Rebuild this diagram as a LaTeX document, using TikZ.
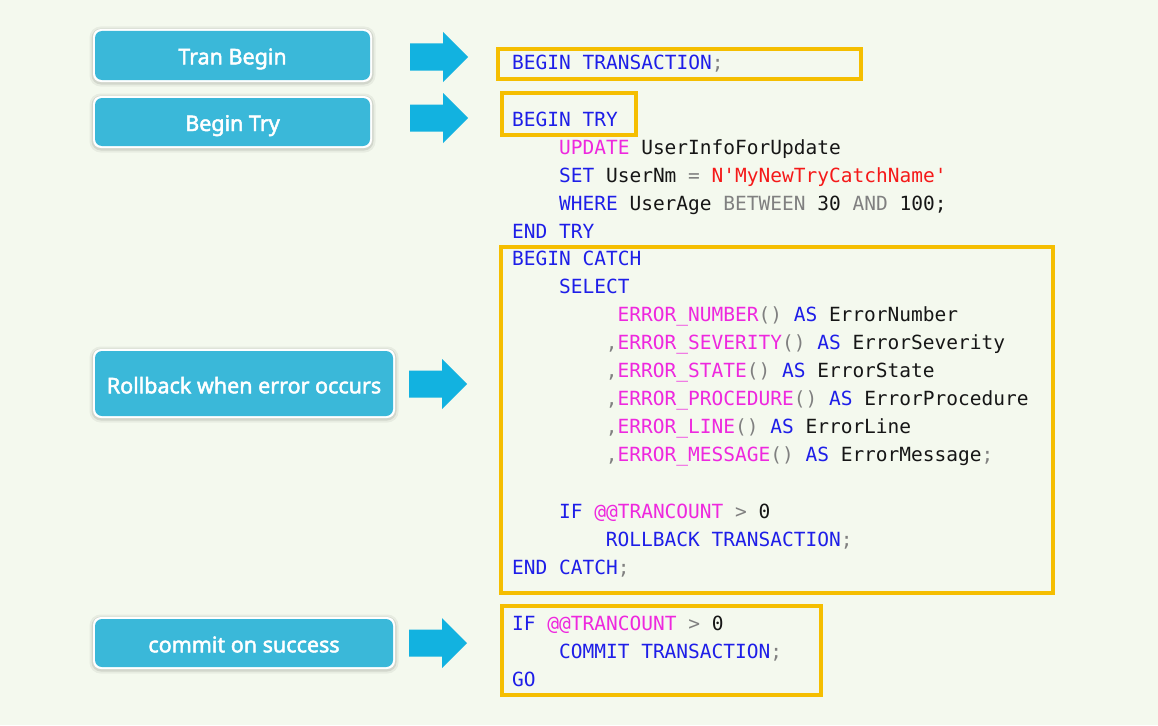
\documentclass[tikz,border=0pt]{standalone}
\usepackage{fontspec}
\newfontfamily\codefont{DejaVu Sans Mono}
\newfontfamily\labfont{Noto Sans}[FakeBold=2.2]
\definecolor{bgc}{RGB}{244,249,238}
\definecolor{boxblue}{RGB}{58,184,217}
\definecolor{arrblue}{RGB}{18,178,224}
\definecolor{hlyellow}{RGB}{245,190,0}
\definecolor{kwc}{RGB}{30,30,232}
\definecolor{fnc}{RGB}{238,40,222}
\definecolor{strc}{RGB}{245,25,25}
\definecolor{grc}{RGB}{128,128,128}
\definecolor{idc}{RGB}{22,22,22}
\newcommand\kw[1]{\textcolor{kwc}{#1}}
\newcommand\fn[1]{\textcolor{fnc}{#1}}
\newcommand\strg[1]{\textcolor{strc}{#1}}
\newcommand\gr[1]{\textcolor{grc}{#1}}
\newcommand\idf[1]{\textcolor{idc}{#1}}
\tikzset{
  lab/.style={font=\labfont\fontsize{21.5}{24}\selectfont, text=white, inner sep=0pt, anchor=base},
  codetxt/.style={font=\codefont\fontsize{19.5}{22}\selectfont, anchor=base west, inner sep=0pt},
  hl/.style={draw=hlyellow, line width=4pt},
  arr/.style={fill=arrblue},
}
\newcommand\labbox[7]{% name x1 y1 x2 y2 baseline text
  \fill[black,opacity=0.05,rounded corners=11] (#2-3.5,#3-2.5) rectangle (#4+3.5,#5+4.5);
  \fill[black,opacity=0.09,rounded corners=9.5] (#2-1.5,#3-0.5) rectangle (#4+1.5,#5+2.5);
  \fill[white,rounded corners=8] (#2,#3) rectangle (#4,#5);
  \fill[boxblue,rounded corners=7] (#2+2,#3+2) rectangle (#4-2,#5-2);
  \node[lab] (#1) at ({(#2+#4)/2},#6) {#7};
}
\newcommand\arrowat[5]{% x0 xh xt yc name
  \coordinate (#5) at (#3,#4);
  \fill[arr] (#1,#4-13.5) -- (#2,#4-13.5) -- (#2,#4-25) -- (#5) -- (#2,#4+25) -- (#2,#4+13.5) -- (#1,#4+13.5) -- cycle;
}
\newcommand\codeln[4]{% name col baseline text
  \node[codetxt] (#1) at ({512+#2*11.72},#3) {#4};
}
\begin{document}
\begin{tikzpicture}[x=1pt,y=-1pt]
\fill[bgc] (0,0) rectangle (1158,725);
\useasboundingbox (0,0) rectangle (1158,725);

% left boxes
\labbox{b1}{93}{29}{372}{82}{64.3}{Tran Begin}
\labbox{b2}{93}{96}{372}{148}{131}{Begin Try}
\labbox{b3}{93}{349}{395}{418}{393.3}{Rollback when error occurs}
\labbox{b4}{93}{617}{395}{669}{652.3}{commit on success}

% arrows
\arrowat{410}{443}{468}{57}{a1}
\arrowat{410}{443}{468}{118}{a2}
\arrowat{409}{442}{467}{384}{a3}
\arrowat{409}{442}{467}{643}{a4}

% highlight frames
\draw[hl] (498,49) rectangle (861,79);
\draw[hl] (502,93) rectangle (636,135);
\draw[hl] (501,247) rectangle (1053,593);
\draw[hl] (502,606) rectangle (821,695);

% code
\codeln{c1}{0}{70}{\kw{BEGIN TRANSACTION}\gr{;}}
\codeln{c2}{0}{126}{\kw{BEGIN TRY}}
\codeln{c3}{4}{154}{\fn{UPDATE} \idf{UserInfoForUpdate}}
\codeln{c4}{4}{182}{\kw{SET} \idf{UserNm} \gr{=} \strg{N\textquotesingle MyNewTryCatchName\textquotesingle}}
\codeln{c5}{4}{210}{\kw{WHERE} \idf{UserAge} \gr{BETWEEN} \idf{30} \gr{AND} \idf{100;}}
\codeln{c6}{0}{238}{\kw{END TRY}}
\codeln{c7}{0}{265}{\kw{BEGIN CATCH}}
\codeln{c8}{4}{293}{\kw{SELECT}}
\codeln{c9}{9}{321}{\fn{ERROR\_NUMBER}\gr{()} \kw{AS} \idf{ErrorNumber}}
\codeln{c10}{8}{349}{\gr{,}\fn{ERROR\_SEVERITY}\gr{()} \kw{AS} \idf{ErrorSeverity}}
\codeln{c11}{8}{377}{\gr{,}\fn{ERROR\_STATE}\gr{()} \kw{AS} \idf{ErrorState}}
\codeln{c12}{8}{405}{\gr{,}\fn{ERROR\_PROCEDURE}\gr{()} \kw{AS} \idf{ErrorProcedure}}
\codeln{c13}{8}{433}{\gr{,}\fn{ERROR\_LINE}\gr{()} \kw{AS} \idf{ErrorLine}}
\codeln{c14}{8}{461}{\gr{,}\fn{ERROR\_MESSAGE}\gr{()} \kw{AS} \idf{ErrorMessage}\gr{;}}
\codeln{c15}{4}{518}{\kw{IF} \fn{@@TRANCOUNT} \gr{>} \idf{0}}
\codeln{c16}{8}{546}{\kw{ROLLBACK TRANSACTION}\gr{;}}
\codeln{c17}{0}{574}{\kw{END CATCH}\gr{;}}
\codeln{c18}{0}{630}{\kw{IF} \fn{@@TRANCOUNT} \gr{>} \idf{0}}
\codeln{c19}{4}{658}{\kw{COMMIT TRANSACTION}\gr{;}}
\codeln{c20}{0}{686}{\kw{GO}}
\end{tikzpicture}
\end{document}
